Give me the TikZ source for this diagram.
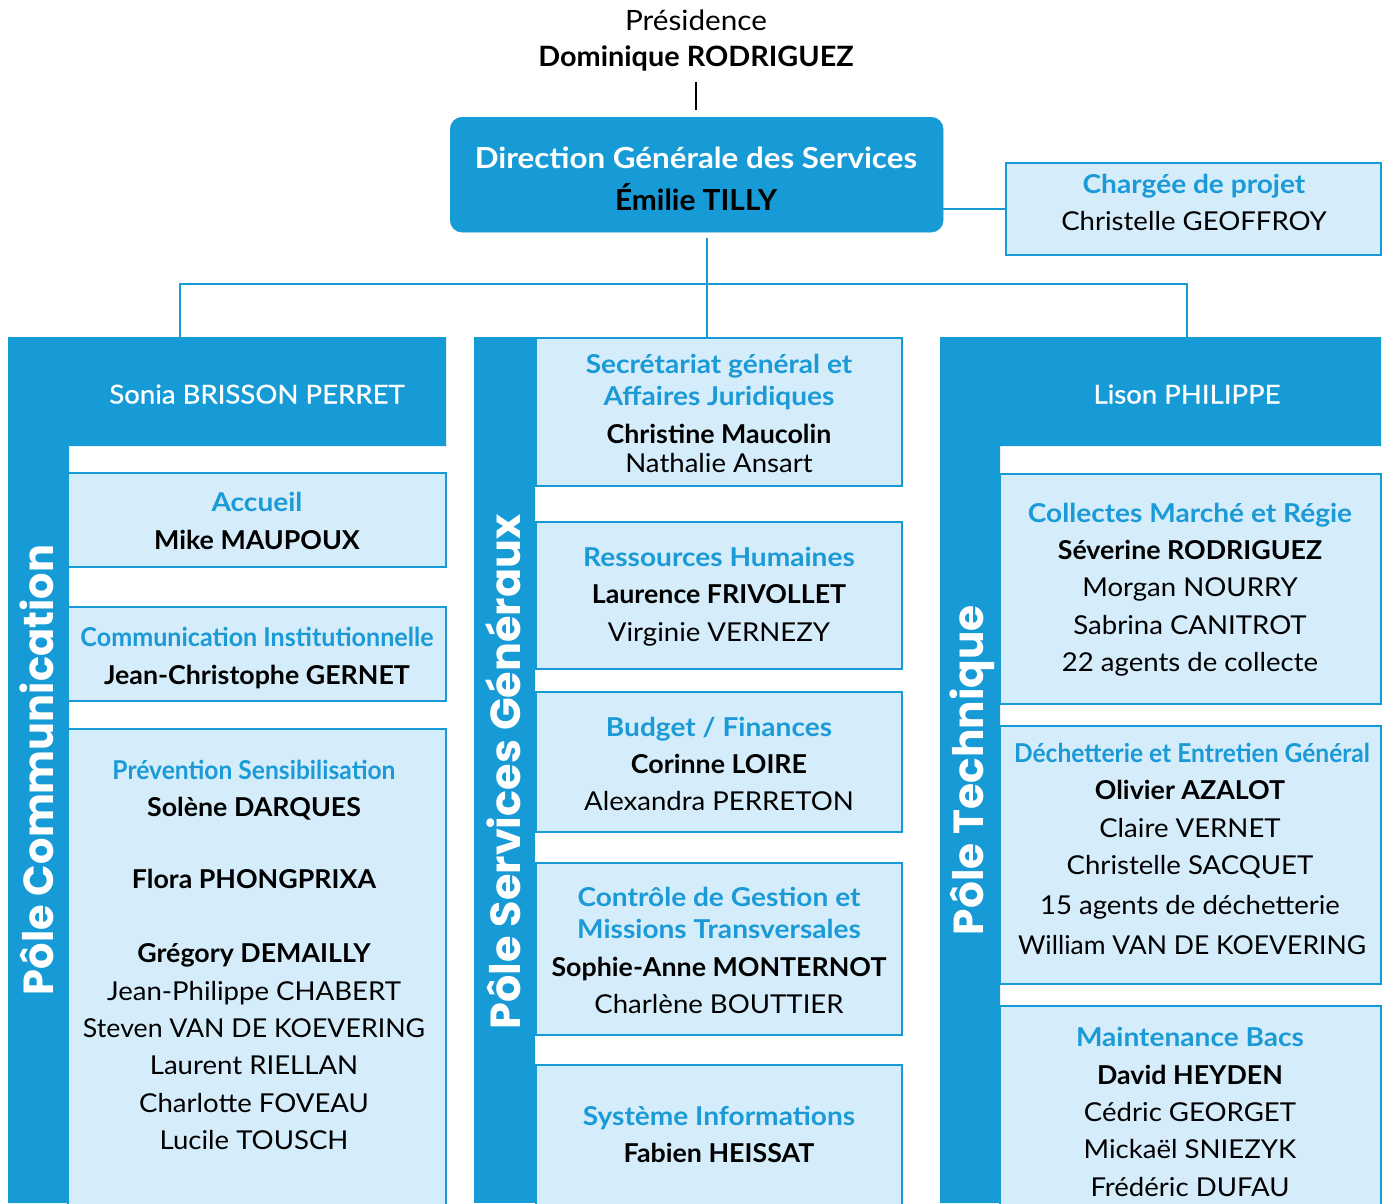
\documentclass[tikz,border=0pt]{standalone}
\usepackage{fontspec}
\setmainfont{Lato}[FakeStretch=1.06,BoldFeatures={FakeStretch=1.03}]
\newfontfamily\ttlfont{Lato}[FakeStretch=1.08]
\newfontfamily\polefont{Poppins}
\newfontfamily\medfont{Lato}[FakeStretch=1.06,FakeBold=0.8]
\usepackage{graphicx}
\definecolor{pblue}{RGB}{23,155,215}
\definecolor{plight}{RGB}{213,236,250}
\definecolor{ptitle}{RGB}{26,154,214}
\tikzset{
  box/.style={draw=pblue, line width=2.5pt, fill=plight, anchor=north west, inner sep=0pt, outer sep=0pt},
  conn/.style={draw=pblue, line width=2pt},
  txt/.style={inner sep=0pt, text height=19pt, text depth=0pt, anchor=center, font=\fontsize{26}{30}\selectfont},
  ttl/.style={txt, text=ptitle, font=\ttlfont\fontsize{26}{30}\selectfont\bfseries},
  nmb/.style={txt, text=black, font=\fontsize{26}{30}\selectfont\bfseries},
  nmr/.style={txt, text=black},
  pole/.style={inner sep=0pt, text height=31pt, text depth=0pt, anchor=center, rotate=90, text=white, font=\polefont\fontsize{42}{50}\selectfont\bfseries},
}
\newcommand{\ttl}[4]{\node[ttl] (#1) at (#2,#3) {#4};}
\newcommand{\nmb}[4]{\node[nmb] (#1) at (#2,#3) {#4};}
\newcommand{\nmr}[4]{\node[nmr] (#1) at (#2,#3) {#4};}
\begin{document}
\begin{tikzpicture}[x=1pt,y=-1pt]
\useasboundingbox (0,0) rectangle (1382,1203);
\clip (0,0) rectangle (1382,1203);
% top
\node[nmr, font=\fontsize{28}{32}\selectfont, text height=20pt] (pres) at (696,20) {Présidence};
\node[nmb, font=\fontsize{28}{32}\selectfont\bfseries, text height=20pt] (dom) at (696,56) {Dominique RODRIGUEZ};
\coordinate (pl1) at (696,82);
\coordinate (pl2) at (696,110);
\draw[line width=2.5pt] (pl1) -- (pl2);
\node[fill=pblue, draw=pblue, rounded corners=12pt, anchor=north west, minimum width=493pt, minimum height=115pt, inner sep=0pt] (dgs) at (450,117) {};
\node[txt, text=white, font=\ttlfont\fontsize{29}{32}\selectfont\bfseries, text height=21pt] (dgs1) at (696,158) {Direction Générale des Services};
\node[txt, text=black, font=\fontsize{29}{32}\selectfont\bfseries, text height=21pt] (dgs2) at (696,200) {Émilie TILLY};
% chargée de projet
\node[box, minimum width=375pt, minimum height=92pt] (cp) at (1006,163) {};
\ttl{cp1}{1194}{184}{Chargée de projet}
\nmr{cp2}{1194}{221}{Christelle GEOFFROY}
\draw[conn] (dgs.east |- cp.west) -- (cp.west);
% tree connectors
\coordinate (d0) at (707,238);
\coordinate (dl) at (180,284);
\coordinate (dr) at (1187,284);
\coordinate (dlb) at (180,337);
\coordinate (drb) at (1187,337);
\coordinate (dmb) at (707,338);
\draw[conn] (d0) -- (dmb);
\draw[conn] (dlb) -- (dl) -- (dr) -- (drb);
% poles backgrounds
\fill[pblue] (8,337) -- (446,337) -- (446,446) -- (69,446) -- (69,1203) -- (8,1203) -- cycle;
\fill[pblue] (474,337) rectangle (535,1203);
\fill[pblue] (940,337) -- (1381,337) -- (1381,446) -- (1000,446) -- (1000,1203) -- (940,1203) -- cycle;
\node[txt, text=white, font=\medfont\fontsize{26}{30}\selectfont] (sonia) at (257,394) {Sonia BRISSON PERRET};
\node[txt, text=white, font=\medfont\fontsize{26}{30}\selectfont] (lison) at (1187,394) {Lison PHILIPPE};
\node[pole] (pc) at (38,770) {\resizebox{450pt}{\height}{Pôle Communication}};
\node[pole] (ps) at (505,772) {\resizebox{515pt}{\height}{Pôle Services Généraux}};
\node[pole] (pt) at (968,770) {\resizebox{330pt}{\height}{Pôle Technique}};
% left boxes
\node[box, minimum width=378pt, minimum height=94pt] (acc) at (68,473) {};
\ttl{acc1}{257}{502}{Accueil}
\nmb{acc2}{257}{540}{Mike MAUPOUX}
\node[box, minimum width=378pt, minimum height=94pt] (ci) at (68,607) {};
\ttl{ci1}{257}{637}{\resizebox{353pt}{\height}{Communication Institutionnelle}}
\nmb{ci2}{257}{675}{Jean-Christophe GERNET}
\node[box, minimum width=378pt, minimum height=490pt] (prev) at (68,729) {};
\ttl{pv1}{254}{770}{\resizebox{283pt}{\height}{Prévention Sensibilisation}}
\nmb{pv2}{254}{807}{Solène DARQUES}
\nmb{pv3}{254}{879}{Flora PHONGPRIXA}
\nmb{pv4}{254}{953}{Grégory DEMAILLY}
\nmr{pv5}{254}{991}{Jean-Philippe CHABERT}
\nmr{pv6}{254}{1028}{\resizebox{342pt}{\height}{Steven VAN DE KOEVERING}}
\nmr{pv7}{254}{1065}{Laurent RIELLAN}
\nmr{pv8}{254}{1103}{Charlotte FOVEAU}
\nmr{pv9}{254}{1140}{Lucile TOUSCH}
% middle boxes
\node[box, minimum width=366pt, minimum height=148pt] (sec) at (536,338) {};
\ttl{sec1}{719}{364}{Secrétariat général et}
\ttl{sec2}{719}{396}{Affaires Juridiques}
\nmb{sec3}{719}{434}{Christine Maucolin}
\nmr{sec4}{719}{463}{Nathalie Ansart}
\node[box, minimum width=366pt, minimum height=147pt] (rh) at (536,522) {};
\ttl{rh1}{719}{557}{Ressources Humaines}
\nmb{rh2}{719}{594}{Laurence FRIVOLLET}
\nmr{rh3}{719}{632}{Virginie VERNEZY}
\node[box, minimum width=366pt, minimum height=140pt] (bud) at (536,692) {};
\ttl{bud1}{719}{727}{Budget / Finances}
\nmb{bud2}{719}{764}{Corinne LOIRE}
\nmr{bud3}{719}{801}{Alexandra PERRETON}
\node[box, minimum width=366pt, minimum height=172pt] (ctl) at (536,863) {};
\ttl{ctl1}{719}{897}{Contrôle de Gestion et}
\ttl{ctl2}{719}{929}{Missions Transversales}
\nmb{ctl3}{719}{967}{Sophie-Anne MONTERNOT}
\nmr{ctl4}{719}{1004}{Charlène BOUTTIER}
\node[box, minimum width=366pt, minimum height=160pt] (sys) at (536,1065) {};
\ttl{sys1}{719}{1116}{Système Informations}
\nmb{sys2}{719}{1153}{Fabien HEISSAT}
% right boxes
\node[box, minimum width=381pt, minimum height=230pt] (col) at (1000,474) {};
\ttl{col1}{1190}{513}{Collectes Marché et Régie}
\nmb{col2}{1190}{550}{Séverine RODRIGUEZ}
\nmr{col3}{1190}{587}{Morgan NOURRY}
\nmr{col4}{1190}{625}{Sabrina CANITROT}
\nmr{col5}{1190}{662}{22 agents de collecte}
\node[box, minimum width=381pt, minimum height=258pt] (dec) at (1000,726) {};
\ttl{dec1}{1192}{753}{\resizebox{356pt}{\height}{Déchetterie et Entretien Général}}
\nmb{dec2}{1190}{790}{Olivier AZALOT}
\nmr{dec3}{1190}{828}{Claire VERNET}
\nmr{dec4}{1190}{865}{Christelle SACQUET}
\nmr{dec5}{1190}{905}{15 agents de déchetterie}
\nmr{dec6}{1192}{945}{\resizebox{348pt}{\height}{William VAN DE KOEVERING}}
\node[box, minimum width=381pt, minimum height=220pt] (mnt) at (1000,1006) {};
\ttl{mnt1}{1190}{1037}{Maintenance Bacs}
\nmb{mnt2}{1190}{1075}{David HEYDEN}
\nmr{mnt3}{1190}{1112}{Cédric GEORGET}
\nmr{mnt4}{1190}{1149}{Mickaël SNIEZYK}
\nmr{mnt5}{1190}{1187}{Frédéric DUFAU}
\end{tikzpicture}
\end{document}
